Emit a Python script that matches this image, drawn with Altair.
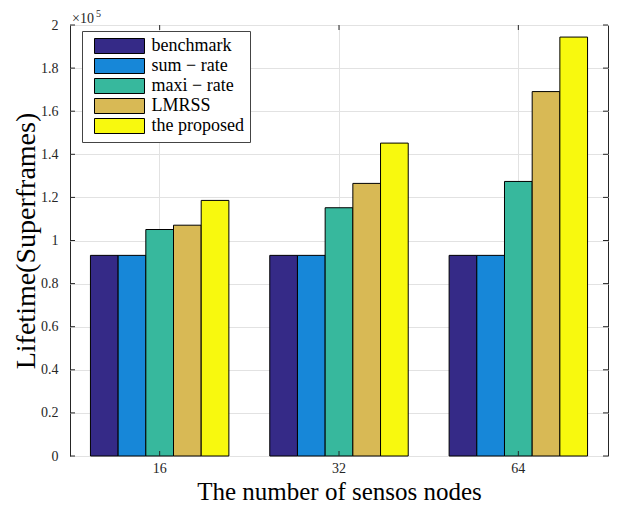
import altair as alt
import pandas as pd

# ---- data (in superframes) ----
categories = ["16", "32", "64"]
schemes = ["benchmark", "sum − rate", "maxi − rate", "LMRSS", "the proposed"]
benchmark = [93100, 93100, 93100]
sum_rate = [93100, 93100, 93100]
maxi_rate = [105100, 115200, 127400]
lmrss = [107100, 126500, 169100]
proposed = [118600, 145200, 194400]
colors = ["#352a87", "#1787d8", "#37b89d", "#d8b955", "#f8f90e"]
y_ticks = [0, 20000, 40000, 60000, 80000, 100000, 120000, 140000, 160000, 180000, 200000]
exponent_base = ["×10"]
exponent_power = ["5"]

rows = []
for s, vals in zip(schemes, [benchmark, sum_rate, maxi_rate, lmrss, proposed]):
    for c, v in zip(categories, vals):
        rows.append({"nodes": c, "scheme": s, "lifetime": v})
df = pd.DataFrame(rows)

W, H = 538, 431
FONT = "Liberation Serif"
DARK = "#262626"

x_scale = alt.Scale(domain=categories, paddingInner=0.228, paddingOuter=0.114)
y_scale = alt.Scale(domain=[0, 200000], nice=False, zero=True)

x_axis = alt.Axis(title="The number of sensos nodes", labelAngle=0, ticks=False,
                  domain=False, grid=True, bandPosition=0.5, labelPadding=5,
                  titleFontSize=25, titleBaseline="alphabetic", titleY=43)
y_axis = alt.Axis(values=y_ticks, labelExpr="format(datum.value/100000, '.1~f')",
                  title="Lifetime(Superframes)", ticks=False, domain=False, grid=True,
                  labelPadding=12, titleFontSize=28, titleBaseline="alphabetic",
                  titleX=-36)

bars = alt.Chart(df).mark_bar(stroke="black", strokeWidth=1, opacity=1).encode(
    x=alt.X("nodes:N", scale=x_scale, sort=categories, axis=x_axis),
    xOffset=alt.XOffset("scheme:N", sort=schemes,
                        scale=alt.Scale(domain=schemes, paddingInner=0, paddingOuter=0)),
    y=alt.Y("lifetime:Q", scale=y_scale, axis=y_axis),
    color=alt.Color("scheme:N", sort=schemes,
                    scale=alt.Scale(domain=schemes, range=colors),
                    legend=alt.Legend(title=None, orient="none", legendX=12, legendY=6,
                                      fillColor="white", strokeColor="#444444", padding=6,
                                      symbolType="M-3.333,-1H3.333V1H-3.333Z", symbolSize=225,
                                      symbolStrokeColor="black", symbolStrokeWidth=1,
                                      symbolOpacity=1, symbolOffset=22.5, labelOffset=23,
                                      labelFont=FONT, labelFontSize=18, labelColor="black",
                                      rowPadding=0)),
)

tick_df = pd.DataFrame({"lifetime": y_ticks})
cat_df = pd.DataFrame({"nodes": categories})

left_ticks = alt.Chart(tick_df).mark_rule(color=DARK).encode(
    y=alt.Y("lifetime:Q", scale=y_scale, axis=y_axis), x=alt.value(0), x2=alt.value(5))
right_ticks = alt.Chart(tick_df).mark_rule(color=DARK).encode(
    y=alt.Y("lifetime:Q", scale=y_scale, axis=y_axis), x=alt.value(W - 5), x2=alt.value(W))
bottom_ticks = alt.Chart(cat_df).mark_rule(color=DARK).encode(
    x=alt.X("nodes:N", scale=x_scale, sort=categories, axis=x_axis),
    y=alt.value(H - 5), y2=alt.value(H))
top_ticks = alt.Chart(cat_df).mark_rule(color=DARK).encode(
    x=alt.X("nodes:N", scale=x_scale, sort=categories, axis=x_axis),
    y=alt.value(0), y2=alt.value(5))

exp_base = alt.Chart(pd.DataFrame({"t": exponent_base})).mark_text(
    font=FONT, fontSize=14, align="left", baseline="alphabetic", color=DARK
).encode(text="t:N", x=alt.value(2), y=alt.value(-2))
exp_pow = alt.Chart(pd.DataFrame({"t": exponent_power})).mark_text(
    font=FONT, fontSize=10, align="left", baseline="alphabetic", color=DARK
).encode(text="t:N", x=alt.value(26), y=alt.value(-8))

chart = alt.layer(bars, left_ticks, right_ticks, bottom_ticks, top_ticks, exp_base, exp_pow).properties(
    width=W, height=H,
    autosize=alt.AutoSizeParams(type="none"),
    padding={"left": 62, "top": 17, "right": 1, "bottom": 49},
).configure_view(
    stroke=DARK, strokeWidth=1
).configure_axis(
    gridColor="#e2e2e2", gridWidth=1, gridOpacity=1,
    labelFont=FONT, labelFontSize=14, labelColor=DARK,
    titleFont=FONT, titleFontWeight="normal", titleColor="black",
)

chart.save("out.html", embed_options={"renderer": "svg", "actions": False})
